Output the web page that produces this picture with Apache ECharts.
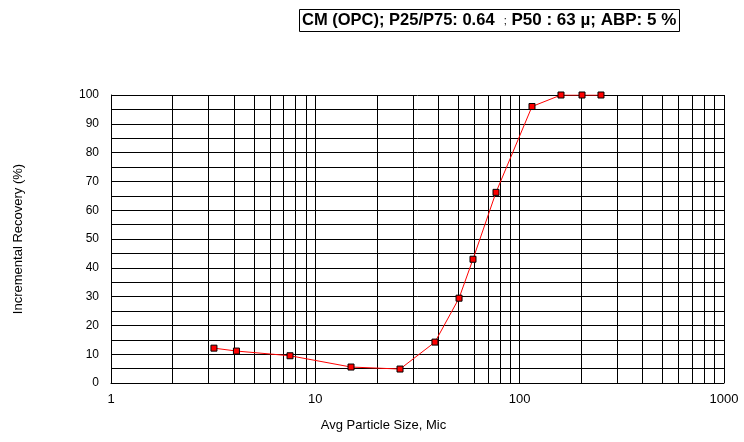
<!DOCTYPE html>
<html>
<head>
<meta charset="utf-8">
<script src="https://cdn.jsdelivr.net/npm/echarts@6/dist/echarts.min.js"></script>
<style>
html,body{margin:0;padding:0;background:#fff;}
#chart{width:744px;height:442px;}
</style>
</head>
<body>
<div id="chart"></div>
<script>
// Data
var sizes = [3.19, 4.11, 7.52, 14.95, 25.97, 38.5, 50.5, 59.1, 76.6, 114.9, 159.3, 201.9, 250];
var recovery = [12.1, 11.1, 9.46, 5.54, 4.85, 14.2, 29.45, 42.97, 66.2, 96.0, 100, 100, 100];
var minorGridX = [2,3,4,5,6,7,8,9,20,30,40,50,60,70,80,90,200,300,400,500,600,700,800,900];
var titleBold1 = 'CM (OPC); P25/P75: 0.64  ';
var titleSemi = ';';
var titleBold2 = ' P50 : 63 \u00b5; ABP: 5 %';

var FONT = '"Liberation Sans", Arial, sans-serif';
var chart = echarts.init(document.getElementById('chart'), null, {renderer: 'canvas'});
var option = {
  animation: false,
  backgroundColor: '#fff',
  title: {
    text: '{b|' + titleBold1 + '}{s|' + titleSemi + '}{c|' + titleBold2 + '}',
    left: 299,
    top: 9,
    borderColor: '#000',
    borderWidth: 1,
    padding: [3, 4, 3, 3],
    textStyle: {
      rich: {
        b: {fontFamily: FONT, fontSize: 16.5, fontWeight: 'bold', color: '#000'},
        c: {fontFamily: FONT, fontSize: 17, fontWeight: 'bold', color: '#000'},
        s: {fontFamily: FONT, fontSize: 11, fontWeight: 'normal', color: '#000'}
      }
    }
  },
  grid: {left: 111, top: 95, right: 20, bottom: 59, containLabel: false},
  xAxis: {
    type: 'log',
    logBase: 10,
    min: 1,
    max: 1000,
    name: 'Avg Particle Size, Mic',
    nameLocation: 'middle',
    nameGap: 36,
    nameTextStyle: {fontFamily: FONT, fontSize: 13, color: '#000', padding: [0, 68, 0, 0]},
    axisLine: {show: true, lineStyle: {color: '#000', width: 1}},
    axisTick: {show: false},
    axisLabel: {
      fontFamily: FONT, fontSize: 13, color: '#000', margin: 10,
      formatter: function (v) { return String(Math.round(v)); }
    },
    splitLine: {show: true, lineStyle: {color: '#000', width: 1}}
  },
  yAxis: {
    type: 'value',
    min: 0,
    max: 100,
    interval: 5,
    name: 'Incremental Recovery (%)',
    nameLocation: 'middle',
    nameGap: 86,
    nameTextStyle: {fontFamily: FONT, fontSize: 13, color: '#000', padding: [0, 0, 0, 0]},
    axisLine: {show: true, lineStyle: {color: '#000', width: 1}},
    axisTick: {show: false},
    axisLabel: {
      fontFamily: FONT, fontSize: 12, color: '#000', margin: 12,
      formatter: function (v) { return v % 10 === 0 ? String(v) : ''; }
    },
    splitLine: {show: true, lineStyle: {color: '#000', width: 1}}
  },
  series: [{
    type: 'line',
    data: sizes.map(function (s, i) { return [s, recovery[i]]; }),
    symbol: 'rect',
    symbolSize: 6,
    showSymbol: true,
    lineStyle: {color: '#ff0000', width: 1},
    itemStyle: {color: '#ff0000', borderColor: '#000', borderWidth: 1},
    z: 5,
    markLine: {
      silent: true,
      symbol: ['none', 'none'],
      label: {show: false},
      lineStyle: {color: '#000', width: 1, type: 'solid'},
      emphasis: {disabled: true},
      data: minorGridX.map(function (v) { return {xAxis: v}; }),
      z: 1
    }
  }]
};
chart.setOption(option);
</script>
</body>
</html>
